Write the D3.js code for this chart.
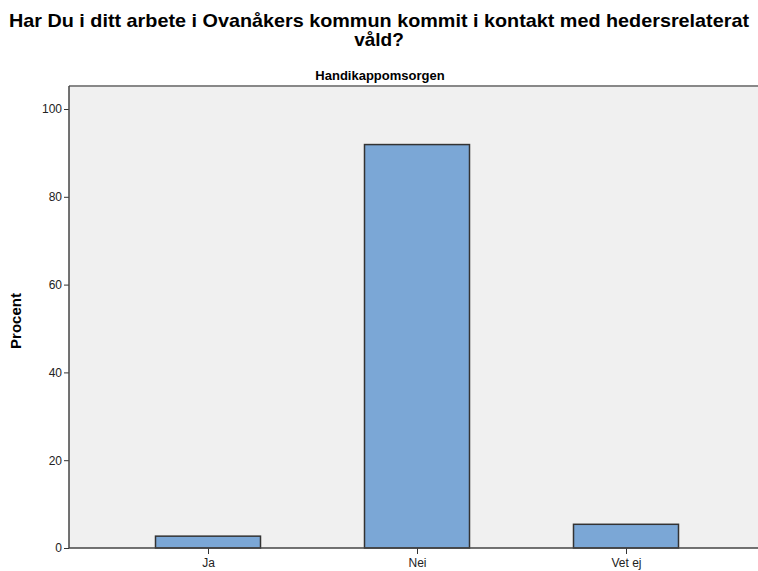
<!DOCTYPE html>
<html>
<head>
<meta charset="utf-8">
<style>
  body { margin: 0; background: #fff; }
  svg text { font-family: Arial, "Liberation Sans", sans-serif; fill: #000; }
  .axis path, .axis line { stroke: #333; }
</style>
</head>
<body>
<div class="chart"></div>
<script src="https://d3js.org/d3.v7.min.js"></script>
<script>
  // data
  const categories = ["Ja", "Nei", "Vet ej"];
  const procent = [2.7, 91.9, 5.4];
  const yTicks = [0, 20, 40, 60, 80, 100];

  const width = 758, height = 571;
  const plot = { left: 69, right: 770, top: 86, bottom: 548 };

  const svg = d3.select(".chart")
    .append("svg")
    .attr("width", width)
    .attr("height", height);

  // titlar
  svg.append("text")
    .attr("x", 379).attr("y", 27)
    .attr("text-anchor", "middle")
    .attr("textLength", 740)
    .attr("lengthAdjust", "spacingAndGlyphs")
    .style("font-size", "19px").style("font-weight", "bold")
    .text("Har Du i ditt arbete i Ovanåkers kommun kommit i kontakt med hedersrelaterat");
  svg.append("text")
    .attr("x", 379).attr("y", 46)
    .attr("text-anchor", "middle")
    .style("font-size", "19px").style("font-weight", "bold")
    .text("våld?");
  svg.append("text")
    .attr("x", 380).attr("y", 80)
    .attr("text-anchor", "middle")
    .style("font-size", "13px").style("font-weight", "bold")
    .text("Handikappomsorgen");

  const yScale = d3.scaleLinear()
    .domain([0, 100])
    .range([plot.bottom, 109]);

  const xScale = d3.scalePoint()
    .domain(categories)
    .range([208, 626]);
  const barWidth = 105;

  // bakgrund
  svg.append("rect")
    .attr("x", plot.left).attr("y", plot.top)
    .attr("width", plot.right - plot.left)
    .attr("height", plot.bottom - plot.top)
    .attr("fill", "#f0f0f0");
  svg.append("line")
    .attr("x1", plot.left).attr("x2", plot.right)
    .attr("y1", plot.top).attr("y2", plot.top)
    .attr("stroke", "#888").attr("stroke-width", 2);

  // staplar
  svg.selectAll("rect.bar")
    .data(procent)
    .enter()
    .append("rect")
    .attr("class", "bar")
    .attr("x", (d, i) => xScale(categories[i]) - barWidth / 2)
    .attr("y", d => yScale(d))
    .attr("width", barWidth)
    .attr("height", d => yScale(0) - yScale(d))
    .attr("fill", "#7ba7d6")
    .attr("stroke", "#333")
    .attr("stroke-width", 1.5);

  // y-axel
  const yAxis = d3.axisLeft(yScale)
    .tickValues(yTicks)
    .tickSize(5)
    .tickPadding(2);
  svg.append("g")
    .attr("class", "axis")
    .attr("transform", `translate(${plot.left},0)`)
    .call(yAxis)
    .call(g => g.select(".domain").remove())
    .call(g => g.selectAll("text").style("font-size", "12px").style("fill", "#222"));
  svg.append("line")
    .attr("x1", plot.left).attr("x2", plot.left)
    .attr("y1", plot.top).attr("y2", plot.bottom)
    .attr("stroke", "#444").attr("stroke-width", 1.5);

  // x-axel
  const xAxis = d3.axisBottom(xScale)
    .tickSize(6)
    .tickPadding(4);
  svg.append("g")
    .attr("class", "axis")
    .attr("transform", `translate(0,${plot.bottom})`)
    .call(xAxis)
    .call(g => g.select(".domain").remove())
    .call(g => g.selectAll("text").style("font-size", "12px").style("fill", "#222"));
  svg.append("line")
    .attr("x1", plot.left).attr("x2", plot.right)
    .attr("y1", plot.bottom).attr("y2", plot.bottom)
    .attr("stroke", "#444").attr("stroke-width", 1.5);

  // y-etikett
  svg.append("text")
    .attr("transform", "translate(21,321) rotate(-90)")
    .attr("text-anchor", "middle")
    .style("font-size", "15px").style("font-weight", "bold")
    .text("Procent");
</script>
</body>
</html>
